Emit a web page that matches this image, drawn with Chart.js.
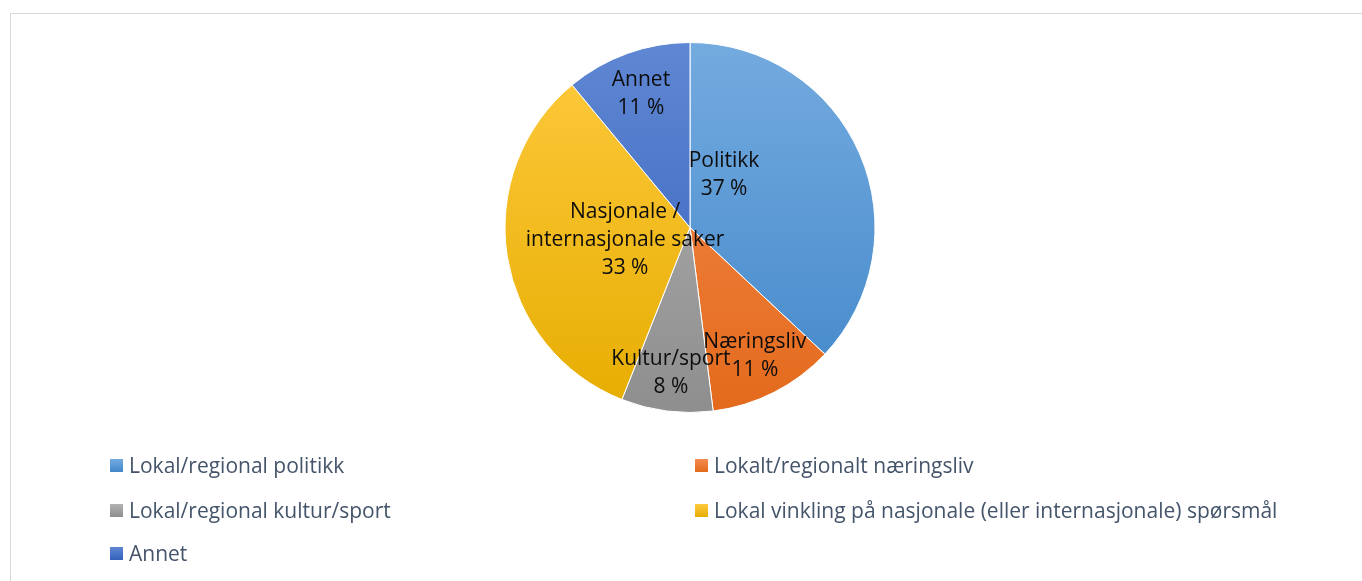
<!DOCTYPE html>
<html>
<head>
<meta charset="utf-8">
<script src="https://cdn.jsdelivr.net/npm/chart.js@4"></script>
<style>
  html, body { margin:0; padding:0; background:#fff; }
  body { width:1362px; height:581px; position:relative; overflow:hidden; font-family:"Open Sans", sans-serif; }
  #ramme { position:absolute; left:10px; top:13px; width:1360px; height:600px; border:1px solid #d9d9d9; box-sizing:border-box; }
  #wrap { position:absolute; left:0; top:0; width:1362px; height:440px; }
  #legend { position:absolute; left:0; top:0; width:1362px; height:581px; pointer-events:none; }
  .item { position:absolute; display:flex; align-items:center; font-size:21px; color:#44546A; white-space:nowrap; }
  .item span.box { width:13px; height:13px; margin-right:6px; display:inline-block; }
</style>
</head>
<body>
<div id="ramme"></div>
<div id="wrap"><canvas id="grafica"></canvas></div>
<div id="legend"></div>
<script>
// data
const kategorier = ["Lokal/regional politikk", "Lokalt/regionalt næringsliv", "Lokal/regional kultur/sport",
  "Lokal vinkling på nasjonale (eller internasjonale) spørsmål", "Annet"];
const korteNavn = [["Politikk"], ["Næringsliv"], ["Kultur/sport"], ["Nasjonale /", "internasjonale saker"], ["Annet"]];
const andel = [37, 11, 8, 33, 11];

// farger (lys topp -> mørk bunn)
const FARGER = [
  ["#74abdf", "#4287ca"],
  ["#f58c4f", "#e36a1c"],
  ["#b3b3b3", "#8e8e8e"],
  ["#ffca3f", "#e6ad00"],
  ["#5f87d3", "#3460bb"]
];

// plassering av etiketter, relativt til senter i andel av radius
const ETIKETT_POS = [
  [0.184, -0.281],
  [0.351, 0.692],
  [-0.103, 0.784],
  [-0.351, 0.07],
  [-0.265, -0.724]
];

function gradient(ctx, area, i) {
  const g = ctx.createLinearGradient(0, area.top, 0, area.bottom);
  g.addColorStop(0, FARGER[i][0]);
  g.addColorStop(1, FARGER[i][1]);
  return g;
}

const etiketter = {
  id: "etiketter",
  afterDatasetsDraw(chart) {
    const ctx = chart.ctx;
    const meta = chart.getDatasetMeta(0);
    const arc = meta.data[0];
    const cx = arc.x, cy = arc.y, r = arc.outerRadius;
    ctx.save();
    ctx.font = '21px "Open Sans"';
    ctx.fillStyle = "#0d0d0d";
    ctx.textAlign = "center";
    ctx.textBaseline = "middle";
    meta.data.forEach((a, i) => {
      const linjer = korteNavn[i].concat([andel[i] + " %"]);
      const x = cx + ETIKETT_POS[i][0] * r;
      const y = cy + ETIKETT_POS[i][1] * r;
      const lh = 28;
      const y0 = y - (linjer.length - 1) * lh / 2;
      linjer.forEach((t, k) => ctx.fillText(t, x, y0 + k * lh));
    });
    ctx.restore();
  }
};

new Chart(document.getElementById("grafica"), {
  type: "pie",
  data: {
    labels: kategorier,
    datasets: [{
      data: andel,
      backgroundColor: c => {
        const area = c.chart.chartArea;
        if (!area) return FARGER[c.dataIndex][1];
        return gradient(c.chart.ctx, area, c.dataIndex);
      },
      borderColor: "#ffffff",
      borderWidth: 1
    }]
  },
  options: {
    responsive: true,
    maintainAspectRatio: false,
    animation: false,
    layout: { padding: { top: 42, bottom: 27, left: 18, right: 0 } },
    plugins: { legend: { display: false }, tooltip: { enabled: false } }
  },
  plugins: [etiketter]
});

// legend
const legend = document.getElementById("legend");
const kolX = [110, 695];
const radY = [465, 510, 553];
kategorier.forEach((k, i) => {
  const d = document.createElement("div");
  d.className = "item";
  d.style.left = kolX[i % 2] + "px";
  d.style.top = (radY[Math.floor(i / 2)] - 14) + "px";
  d.style.height = "28px";
  d.innerHTML = `<span class="box" style="background:linear-gradient(${FARGER[i][0]},${FARGER[i][1]})"></span>${k}`;
  legend.appendChild(d);
});
</script>
</body>
</html>
